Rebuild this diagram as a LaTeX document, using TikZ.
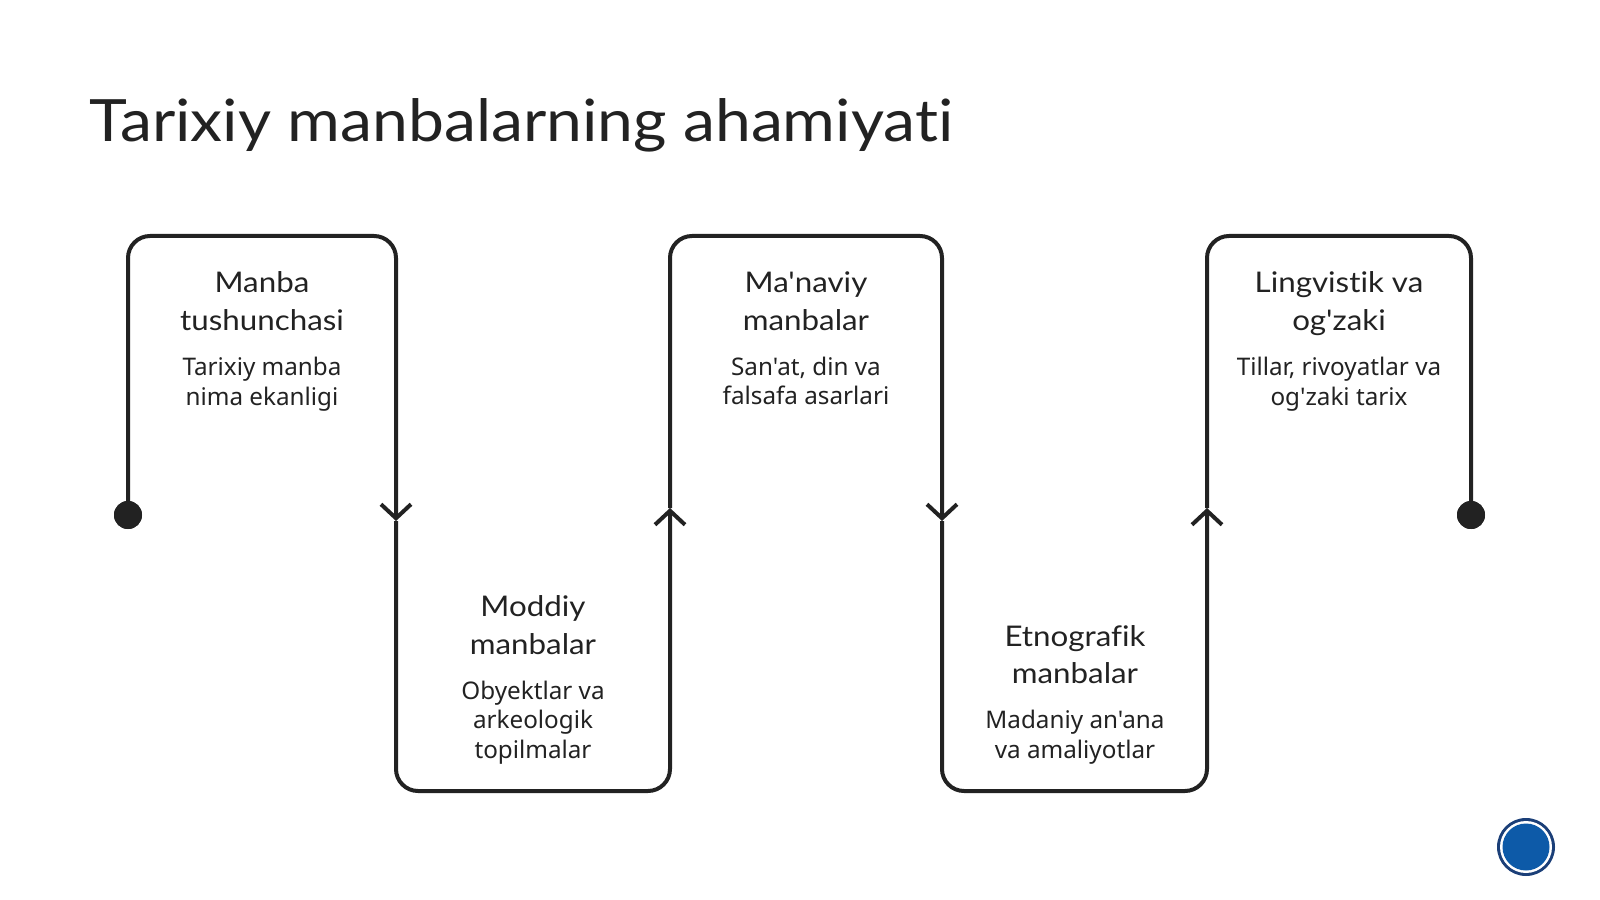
\documentclass[tikz,border=0pt]{standalone}
\usepackage{fontspec}
\setmainfont{Lato}[Ligatures={TeXOff,NoCommon}, FakeStretch=1.1]
\newfontfamily\subfont{Noto Sans}[Ligatures={TeXOff,NoCommon}]
\usetikzlibrary{positioning,arrows.meta}
\definecolor{inkdark}{HTML}{222222}
\definecolor{btnblue}{HTML}{0D5AA8}
\definecolor{btnring}{HTML}{1B3F78}

\begin{document}
\begin{tikzpicture}[
    x=0.1mm, y=-0.1mm,
    node distance=2.5mm,
    track/.style={line width=0.4mm, draw=inkdark, rounded corners=2.2mm},
    arrow/.style={track, -{Straight Barb[length=1.4mm, width=3mm]}},
    head/.style={inner sep=0, align=center, font=\fontsize{8.1}{10.75}\selectfont, text=inkdark},
    sub/.style={inner sep=0, align=center, font=\subfont\fontsize{6.9}{8.4}\selectfont, text=inkdark},
    enddot/.style={circle, fill=inkdark, inner sep=0, minimum size=2.8mm}
]
\useasboundingbox (0,0) rectangle (1600,900);

\node[anchor=base west, inner sep=0, font=\fontsize{16.6}{20}\selectfont, text=inkdark] (title) at (89,142) {Tarixiy manbalarning ahamiyati};

% turning points of the track
\coordinate (t2) at (396,236);
\coordinate (m2) at (396,521);
\coordinate (b3) at (670,791);
\coordinate (m3) at (670,508);
\coordinate (t4) at (942,236);
\coordinate (m4) at (942,521);
\coordinate (b5) at (1207,791);
\coordinate (m5) at (1207,508);
\coordinate (t6) at (1471,236);

\node[enddot] (start) at (128,515) {};
\node[enddot] (finish) at (1471,515) {};

\draw[arrow] (start.center) |- (t2) -- (m2);
\draw[arrow] (m2) |- (b3) -- (m3);
\draw[arrow] (m3) |- (t4) -- (m4);
\draw[arrow] (m4) |- (b5) -- (m5);
\draw[track] (m5) |- (t6) -- (finish.center);
\node[enddot] at (start) {};
\node[enddot] at (finish) {};

% top steps
\node[head, anchor=north] (concept) at (262,271) {Manba\\tushunchasi};
\node[sub, below=of concept] (conceptsub) {Tarixiy manba\\nima ekanligi};
\node[head, anchor=north] (spiritual) at (806,271) {Ma'naviy\\manbalar};
\node[sub, below=of spiritual] (spiritualsub) {San'at, din va\\falsafa asarlari};
\node[head, anchor=north] (lingua) at (1339,271) {Lingvistik va\\og'zaki};
\node[sub, below=2mm of lingua] (linguasub) {Tillar, rivoyatlar va\\og'zaki tarix};

% bottom steps
\node[sub, anchor=south] (materialsub) at (533,765) {Obyektlar va\\arkeologik\\topilmalar};
\node[head, above=of materialsub] (material) {Moddiy\\manbalar};
\node[sub, anchor=south] (ethnosub) at (1075,765) {Madaniy an'ana\\va amaliyotlar};
\node[head, above=of ethnosub] (ethno) {Etnografik\\manbalar};

% corner button
\node[circle, fill=btnring, minimum size=5.8mm, inner sep=0] (btn) at (1526,847) {};
\fill[white] (btn.center) circle (2.6mm);
\fill[btnblue] (btn.center) circle (2.35mm);
\end{tikzpicture}
\end{document}
